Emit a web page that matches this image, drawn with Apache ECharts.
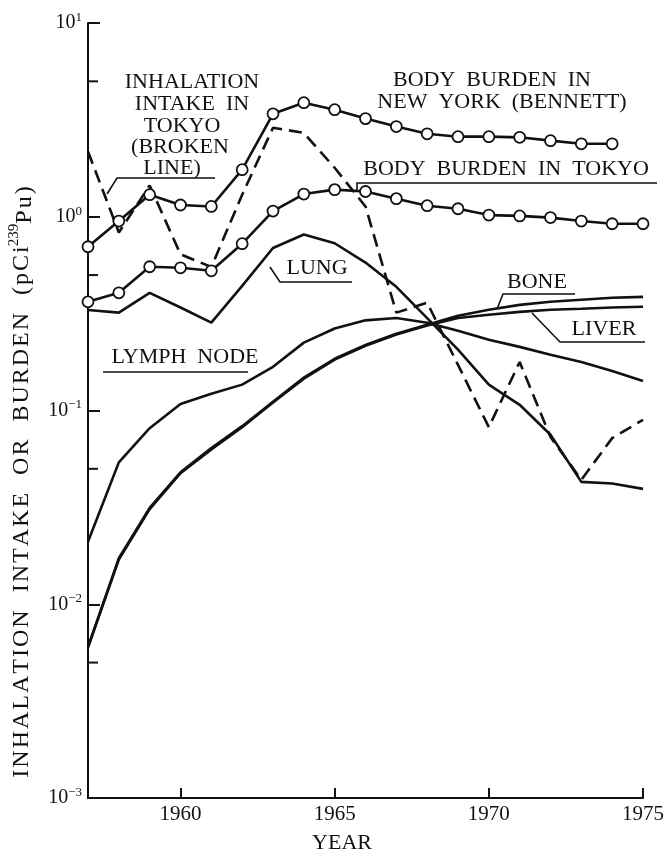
<!DOCTYPE html>
<html>
<head>
<meta charset="utf-8">
<script src="https://cdn.jsdelivr.net/npm/echarts@6/dist/echarts.min.js"></script>
<style>
  html, body { margin: 0; padding: 0; background: #fff; }
  #chart { width: 667px; height: 852px; }
</style>
</head>
<body>
<div id="chart"></div>
<script>
// Plutonium-239 inhalation intake and body burdens, 1957-1975 (pCi, log scale)
const years = [1957, 1958, 1959, 1960, 1961, 1962, 1963, 1964, 1965, 1966,
               1967, 1968, 1969, 1970, 1971, 1972, 1973, 1974, 1975];

const bodyBurdenNewYork = [0.70, 0.95, 1.30, 1.15, 1.13, 1.75, 3.40, 3.88, 3.57, 3.21,
                           2.92, 2.68, 2.59, 2.59, 2.57, 2.47, 2.38, 2.38];           // 1957-1974
const bodyBurdenTokyo   = [0.364, 0.405, 0.552, 0.545, 0.526, 0.726, 1.07, 1.31, 1.38, 1.35,
                           1.24, 1.14, 1.10, 1.02, 1.01, 0.99, 0.95, 0.92, 0.92];
const inhalationTokyo   = [2.17, 0.83, 1.45, 0.64, 0.55, 1.30, 2.88, 2.71, 1.79, 1.13,
                           0.32, 0.36, 0.172, 0.082, 0.178, 0.073, 0.0439, 0.072, 0.0895];
const lung              = [0.33, 0.32, 0.405, 0.34, 0.284, 0.44, 0.69, 0.81, 0.73, 0.58,
                           0.435, 0.30, 0.206, 0.136, 0.107, 0.075, 0.0428, 0.042, 0.0394];
const lymphNode         = [0.021, 0.054, 0.081, 0.108, 0.122, 0.136, 0.168, 0.224, 0.265, 0.292,
                           0.30, 0.284, 0.258, 0.232, 0.213, 0.194, 0.178, 0.160, 0.142];
const bone              = [0.006, 0.0173, 0.0314, 0.048, 0.064, 0.083, 0.111, 0.148, 0.185, 0.218,
                           0.249, 0.277, 0.308, 0.331, 0.351, 0.364, 0.373, 0.382, 0.386];
const liver             = [0.006, 0.0170, 0.0310, 0.0475, 0.063, 0.082, 0.110, 0.146, 0.183, 0.216,
                           0.247, 0.275, 0.300, 0.312, 0.323, 0.331, 0.335, 0.340, 0.343];

const xTickYears = [1960, 1965, 1970, 1975];
const yMin = 0.001, yMax = 10;
const yMinorTicks = [0.005, 0.05, 0.5, 5];

const INK = '#111';
const SERIF = "'Liberation Serif', 'DejaVu Serif', serif";

const pairs = (vals) => vals.map((v, i) => [years[i], v]);

const solid = (name, vals) => ({
  name, type: 'line', data: pairs(vals), symbol: 'none',
  lineStyle: { color: INK, width: 2.6 }, z: 3
});
const circled = (name, vals) => ({
  name, type: 'line', data: pairs(vals), symbol: 'circle', symbolSize: 11,
  showAllSymbol: true,
  itemStyle: { color: '#fff', borderColor: INK, borderWidth: 1.8 },
  lineStyle: { color: INK, width: 2.6 }, z: 5
});

const supText = (e) => (e < 0 ? '\u2212' + (-e) : String(e));
// widen the tracking of a string with hair spaces between letters
const tracked = (s) => s.split('').join('\u200A');

const chart = echarts.init(document.getElementById('chart'), null, { renderer: 'canvas' });

// leader-line helper for the curve annotations
const leader = (pts) => ({
  type: 'polyline', silent: true, z: 10,
  shape: { points: pts },
  style: { stroke: INK, lineWidth: 1.6, fill: null }
});
const label = (text, x, y) => ({
  type: 'text', silent: true, z: 10,
  style: { text, x, y, fill: INK, font: '22px ' + SERIF, align: 'center', verticalAlign: 'middle' }
});

chart.setOption({
  animation: false,
  backgroundColor: '#fff',
  grid: { left: 88, right: 21, top: 23, bottom: 54, containLabel: false },
  xAxis: {
    type: 'value', min: years[0], max: years[years.length - 1],
    axisLine: { lineStyle: { color: INK, width: 2 } },
    axisTick: { customValues: xTickYears, inside: true, length: 10, lineStyle: { color: INK, width: 2 } },
    axisLabel: {
      customValues: xTickYears, color: INK, fontFamily: SERIF, fontSize: 21, margin: 6,
      formatter: (v) => String(v)
    },
    splitLine: { show: false }
  },
  yAxis: {
    type: 'log', logBase: 10, min: yMin, max: yMax,
    axisLine: { show: true, lineStyle: { color: INK, width: 2 } },
    axisTick: { show: true, inside: true, length: 12, lineStyle: { color: INK, width: 2 } },
    axisLabel: {
      margin: 6, color: INK, fontFamily: SERIF,
      formatter: (v) => '{b|10}{s|' + supText(Math.round(Math.log10(v))) + '}',
      rich: {
        b: { fontSize: 20, lineHeight: 24, fontFamily: SERIF, color: INK },
        s: { fontSize: 13, lineHeight: 13, verticalAlign: 'top', fontFamily: SERIF, color: INK }
      }
    },
    splitLine: { show: false }
  },
  series: [
    solid('Lymph node', lymphNode),
    solid('Lung', lung),
    solid('Liver', liver),
    solid('Bone', bone),
    {
      name: 'Inhalation intake in Tokyo', type: 'line', data: pairs(inhalationTokyo), symbol: 'none',
      lineStyle: { color: INK, width: 2.6, type: [13, 7] }, z: 4
    },
    circled('Body burden in Tokyo', bodyBurdenTokyo),
    circled('Body burden in New York', bodyBurdenNewYork),
    {
      // minor ticks at 5 x 10^n on the value axis
      name: 'minor ticks', type: 'custom', silent: true, clip: false, z: 6,
      data: yMinorTicks.map((v) => [years[0], v]),
      renderItem: (params, api) => {
        const p = api.coord([api.value(0), api.value(1)]);
        return { type: 'line', shape: { x1: p[0], y1: p[1], x2: p[0] + 10, y2: p[1] },
                 style: { stroke: INK, lineWidth: 2 } };
      }
    }
  ],
  graphic: [
    // axis titles
    {
      type: 'text', silent: true, x: 22, y: 482, rotation: Math.PI / 2,
      style: {
        text: '{t|' + tracked('INHALATION  INTAKE  OR  BURDEN  (pCi') + '}{sup|239}{sub|' + tracked('Pu)') + '}',
        x: 0, y: 0, align: 'center', verticalAlign: 'middle', fill: INK,
        rich: {
          t: { fontSize: 24, lineHeight: 30, fontFamily: SERIF, fill: INK, verticalAlign: 'middle' },
          sup: { fontSize: 15, lineHeight: 15, fontFamily: SERIF, fill: INK, verticalAlign: 'top' },
          sub: { fontSize: 24, lineHeight: 26, fontFamily: SERIF, fill: INK, verticalAlign: 'bottom' }
        }
      }
    },
    label('YEAR', 342, 843),

    // inhalation intake annotation
    label('INHALATION', 192, 82),
    label('INTAKE  IN', 192, 104),
    label('TOKYO', 182, 126),
    label('(BROKEN', 180, 147),
    label('LINE)', 172, 168),
    leader([[215, 178], [117, 178], [107, 194]]),

    // body burden annotations
    label('BODY  BURDEN  IN', 492, 80),
    label('NEW  YORK  (BENNETT)', 502, 102),
    label('BODY  BURDEN  IN  TOKYO', 506, 169),
    leader([[657, 183], [357, 183], [357, 192]]),

    // organ annotations
    label('LUNG', 317, 268),
    leader([[352, 282], [280, 282], [270, 267]]),
    label('LYMPH  NODE', 185, 357),
    leader([[103, 372], [248, 372]]),
    label('BONE', 537, 282),
    leader([[575, 294], [503, 294], [497, 309]]),
    label('LIVER', 604, 329),
    leader([[645, 342], [560, 342], [532, 313]])
  ]
});
</script>
</body>
</html>
